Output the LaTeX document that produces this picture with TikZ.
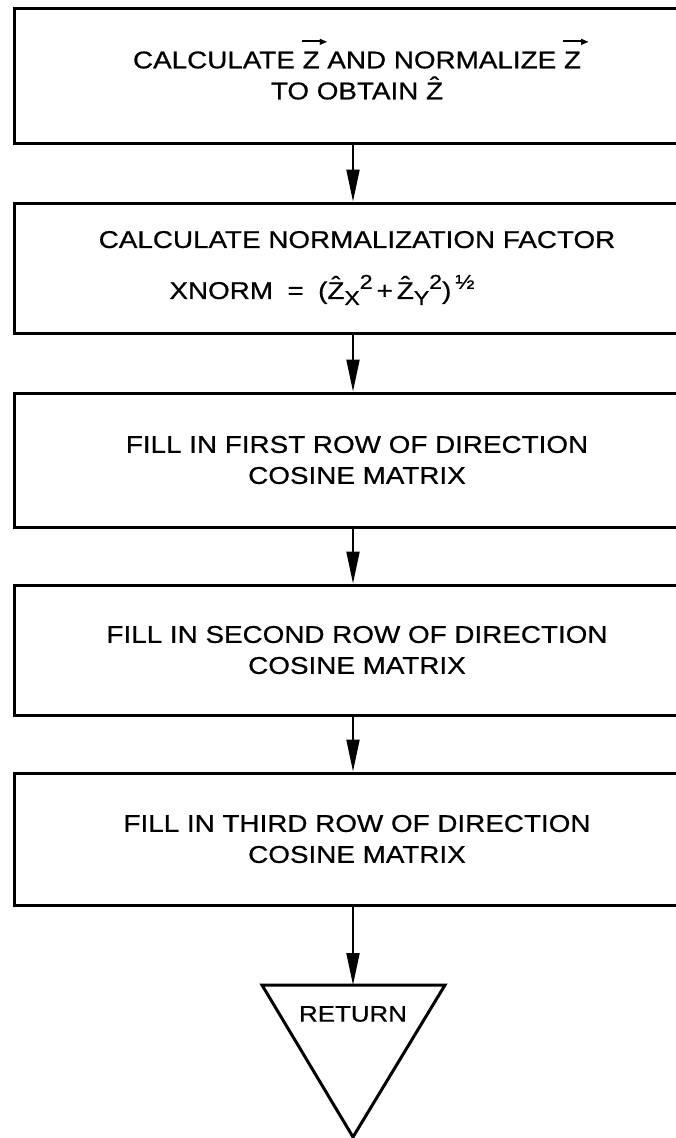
\documentclass[tikz,border=0pt]{standalone}
\usepackage{fontspec}
\setmainfont{Liberation Sans}[FakeStretch=1.15,FakeBold=0.7]
\usetikzlibrary{arrows.meta,calc}
\newcommand\zh{\ooalign{Z\cr\hidewidth\raisebox{0.22em}{\char"02C6}\hidewidth\cr}}
\newcommand\zv{\leavevmode\rlap{\kern-0.02em\smash{\raisebox{1.1em}{\rule{0.72em}{1.5pt}\kern-0.08em\raisebox{-3.0pt}{\fontsize{10}{10}\selectfont ►}}}}Z}
\newcommand\sm[1]{{\fontsize{20}{20}\selectfont #1}}
\begin{document}
\begin{tikzpicture}[x=1pt,y=-1pt,
  box/.style={draw, line width=3pt, minimum width=686pt, minimum height=132pt,
    align=center, inner sep=0pt, font=\fontsize{24.2}{31}\selectfont},
  arr/.style={line width=2pt, -{Triangle[length=32pt,width=13pt]}},
  lbl/.style={font=\fontsize{22.5}{28}\selectfont, inner sep=0pt}]
\useasboundingbox (0,0) rectangle (675,1138);
\coordinate (ax) at (353,0);
\node[box, minimum height=135pt] (b1) at (357,75.5)
  {CALCULATE \zv{} AND NORMALIZE \zv\\TO OBTAIN \zh};
\node[box, minimum height=130pt] (b2) at (357,268)
  {CALCULATE NORMALIZATION FACTOR\\[20pt]
   XNORM \;=\; (\zh\raisebox{-0.25em}{\sm{X}}\raisebox{0.42em}{\sm{2}}\,+\,\zh\raisebox{-0.25em}{\sm{Y}}\raisebox{0.42em}{\sm{2}})\,\raisebox{0.42em}{\sm{½}}\hspace*{70pt}};
\node[box, minimum height=134pt] (b3) at (357,460)
  {FILL IN FIRST ROW OF DIRECTION\\COSINE MATRIX};
\node[box, minimum height=130pt] (b4) at (357,650)
  {FILL IN SECOND ROW OF DIRECTION\\COSINE MATRIX};
\node[box, minimum height=132pt] (b5) at (357,839)
  {FILL IN THIRD ROW OF DIRECTION\\COSINE MATRIX};
\coordinate (tl) at (262,985);
\coordinate (tr) at (445,985);
\coordinate (tb) at (353,1137);
\draw[line width=3pt, line join=miter] (tl) -- (tr) -- (tb) -- cycle;
\node[lbl] (ret) at (353,1014) {RETURN};
\draw[arr] (b1.south -| ax) -- (b2.north -| ax);
\draw[arr] (b2.south -| ax) -- (b3.north -| ax);
\draw[arr] (b3.south -| ax) -- (b4.north -| ax);
\draw[arr] (b4.south -| ax) -- (b5.north -| ax);
\draw[arr] (b5.south -| ax) -- (tl -| ax);
\end{tikzpicture}
\end{document}
